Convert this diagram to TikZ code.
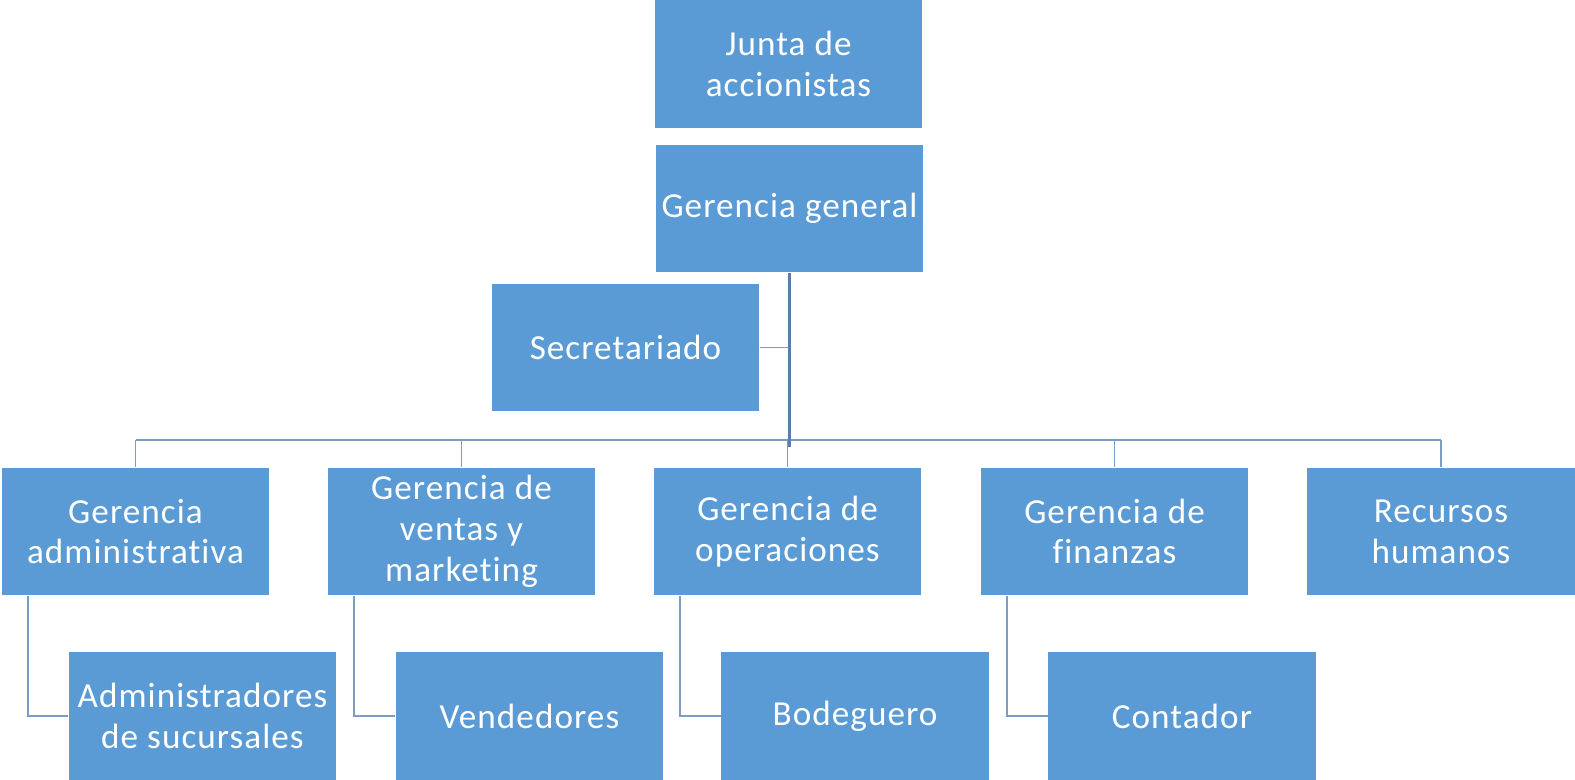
\documentclass[tikz,border=0pt]{standalone}
\usepackage{fontspec}
\setmainfont{Carlito}[Ligatures=NoCommon,LetterSpace=3]
\definecolor{boxblue}{HTML}{5B9BD5}
\definecolor{linkblue}{HTML}{7C9DC3}
\definecolor{trunkblue}{HTML}{5A7EA8}
\tikzset{unit/.style={
        rectangle, fill=boxblue, text=white, inner sep=0pt,
        minimum width=5.36cm, minimum height=2.56cm,
        align=center, font=\fontsize{20}{23.2}\selectfont
    },
    link/.style={draw=linkblue, line width=0.8pt},
    trunk/.style={draw=trunkblue, line width=1.2pt}
}

\begin{document}
\begin{tikzpicture}[x=0.02cm,y=-0.02cm]
        \useasboundingbox (0,0) rectangle (1575,780);
        % top of the chart
        \node[unit] (junta) at (788.5,64) {Junta de\\accionistas};
        \node[unit] (gg) at (789.5,208.5) {Gerencia general};
        \node[unit] (sec) at (625.5,347.5) {Secretariado};
        \coordinate (bus) at (789.5,440);
        % managers
        \node[unit] (ga) at (135.5,531.5) {Gerencia\\administrativa};
        \node[unit] (gv) at (461.5,531.5) {Gerencia de\\ventas y\\marketing};
        \node[unit] (go) at (787.5,531.5) {Gerencia de\\operaciones};
        \node[unit] (gf) at (1114.5,531.5) {Gerencia de\\finanzas};
        \node[unit] (rh) at (1441,531.5) {Recursos\\humanos};
        % staff
        \node[unit] (adm) at (202.5,716) {Administradores\\de sucursales};
        \node[unit] (ven) at (529.5,716) {Vendedores};
        \node[unit] (bod) at (855,716) {Bodeguero};
        \node[unit] (con) at (1182,716) {Contador};
        % connectors
        \draw[link] (ga.north |- bus) -- (rh.north |- bus);
        \foreach \n in {ga,gv,go,gf,rh}
            \draw[link] (\n.north |- bus) -- (\n.north);
        \draw[link] (sec.east) -- (sec.east -| gg.south);
        \draw[trunk] (gg.south) -- ([yshift=-0.14cm]bus);
        \foreach \p/\c in {ga/adm,gv/ven,go/bod,gf/con}
            \draw[link] ([xshift=0.54cm]\p.south west) |- (\c.west);
    \end{tikzpicture}
\end{document}
